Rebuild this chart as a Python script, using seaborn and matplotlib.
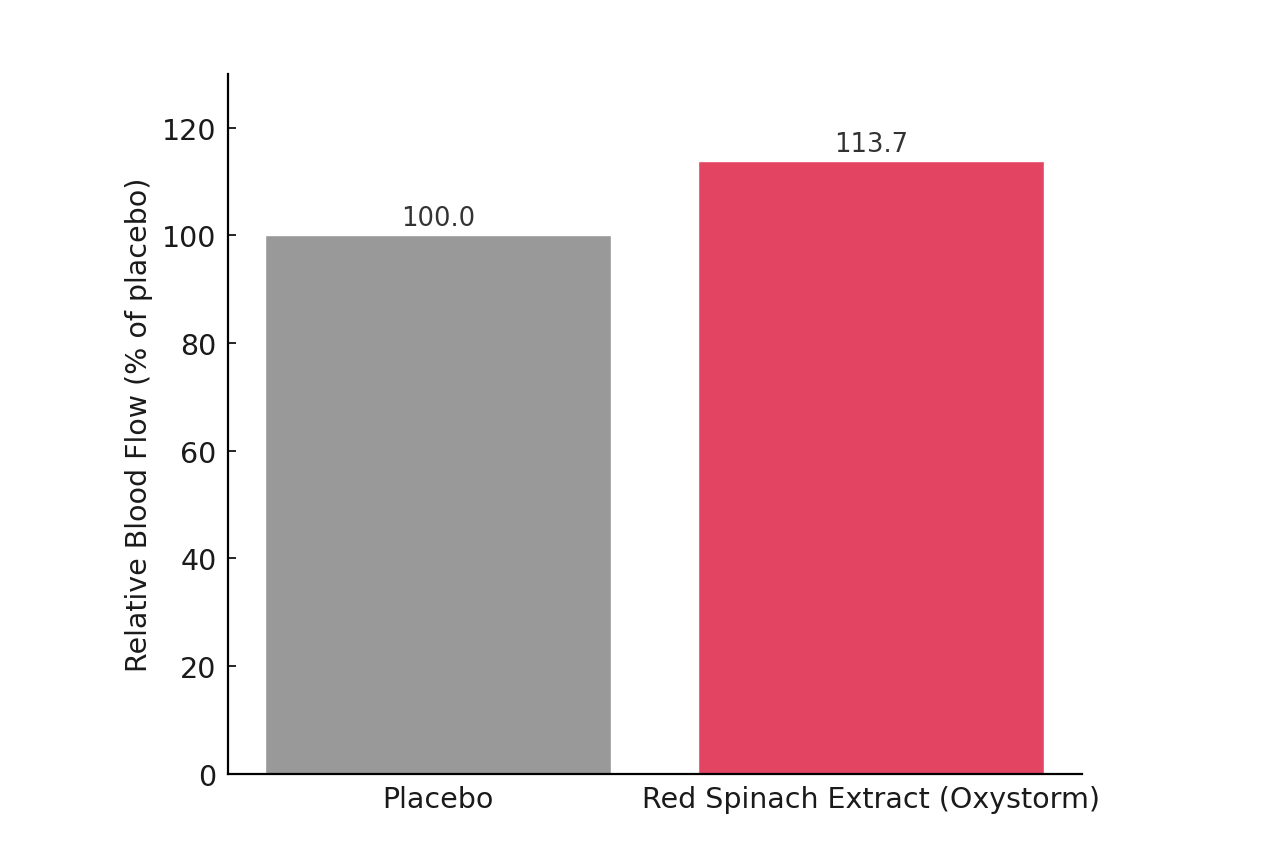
import pandas as pd
import seaborn as sns
import matplotlib.pyplot as plt

sns.set_theme(style="white")
plt.rcParams['font.family'] = ['DejaVu Sans']

# Data
groups = ['Placebo', 'Red Spinach Extract (Oxystorm)']
blood_flow = [100.0, 113.7]
bar_colors = ['#999999', '#E24462']

df = pd.DataFrame({'Group': groups, 'Flow': blood_flow})

fig = plt.figure(figsize=(12.8, 8.53), dpi=100)
ax = fig.add_axes([0.178, 0.0915, 0.667, 0.821])

sns.barplot(data=df, x='Group', y='Flow', hue='Group', palette=bar_colors,
            width=0.8, saturation=1, legend=False, ax=ax)

for container, val in zip(ax.containers, blood_flow):
    ax.bar_label(container, labels=[f'{val:.1f}'], padding=3, fontsize=18.5, color='#333333')

ax.set_xlim(-0.486, 1.486)
ax.set_ylim(0, 130)
ax.set_yticks([0, 20, 40, 60, 80, 100, 120])
ax.set_xlabel('')
ax.set_ylabel('Relative Blood Flow (% of placebo)', fontsize=20.5, color='#1a1a1a', labelpad=7)
ax.tick_params(axis='both', direction='in', length=6, width=1.2, labelsize=20.5,
               colors='black', labelcolor='#1a1a1a', left=True, bottom=True, pad=8)

sns.despine(ax=ax)
for side in ['left', 'bottom']:
    ax.spines[side].set_color('black')
    ax.spines[side].set_linewidth(1.6)

plt.savefig('out.png', dpi=100)
